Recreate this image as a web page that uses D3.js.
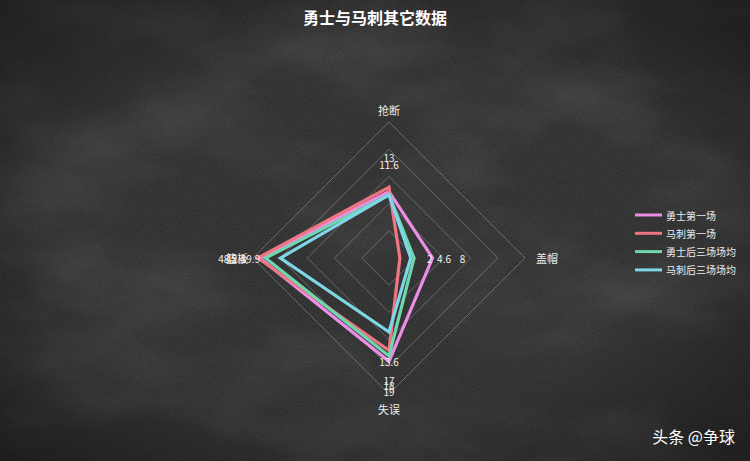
<!DOCTYPE html>
<html>
<head>
<meta charset="utf-8">
<script src="https://cdn.jsdelivr.net/npm/d3@7"></script>
<style>
  body { margin: 0; background: #2d2d2d; }
  svg { display: block; font-family: "Noto Sans CJK SC", "Noto Sans", sans-serif; }
</style>
</head>
<body>
<div id="wrapper"></div>
<script>
// # Data
const indicators = ["抢断", "盖帽", "失误", "篮板"];
const indicatorMax = [25, 25, 25, 50];
const seriesNames = ["勇士第一场", "马刺第一场", "勇士后三场场均", "马刺后三场场均"];
const seriesColors = ["#ec8ee6", "#f07582", "#6fd6ad", "#7ed6e6"];
const warriorsGame1 = [12.2, 8, 19, 47.5];
const spursGame1 = [13, 2, 17, 48.2];
const warriorsNext3 = [11.6, 4.6, 18, 45.4];
const spursNext3 = [11.6, 4, 13.6, 39.9];
const seriesValues = [warriorsGame1, spursGame1, warriorsNext3, spursNext3];
// labels that sit exactly under another one in the picture
const hiddenLabels = [[0, 0], [2, 0], [3, 1], [0, 3]];

async function drawRadar() {
  // # Dimensions
  const dimensions = {
    width: 750,
    height: 461,
    cx: 389,
    cy: 258,
    radius: 136,
    labelOffset: 30,
  };

  const svg = d3.select("#wrapper")
    .append("svg")
    .attr("width", dimensions.width)
    .attr("height", dimensions.height);

  // # Chalkboard background
  const defs = svg.append("defs");
  const chalk = defs.append("filter").attr("id", "chalk")
    .attr("x", 0).attr("y", 0).attr("width", "100%").attr("height", "100%");
  chalk.append("feTurbulence")
    .attr("type", "fractalNoise")
    .attr("baseFrequency", "0.006 0.012")
    .attr("numOctaves", 4)
    .attr("seed", 7);
  chalk.append("feColorMatrix")
    .attr("values", "0 0 0 0 1  0 0 0 0 1  0 0 0 0 1  0.9 0 0 0 -0.38");

  const grain = defs.append("filter").attr("id", "grain")
    .attr("x", 0).attr("y", 0).attr("width", "100%").attr("height", "100%");
  grain.append("feTurbulence")
    .attr("type", "fractalNoise")
    .attr("baseFrequency", 0.9)
    .attr("numOctaves", 2)
    .attr("seed", 3);
  grain.append("feColorMatrix")
    .attr("values", "0 0 0 0 1  0 0 0 0 1  0 0 0 0 1  0 0 0 0.12 -0.02");

  const vignette = defs.append("radialGradient").attr("id", "vignette")
    .attr("cx", "50%").attr("cy", "50%").attr("r", "70%");
  vignette.append("stop").attr("offset", "55%").attr("stop-color", "#000").attr("stop-opacity", 0);
  vignette.append("stop").attr("offset", "100%").attr("stop-color", "#000").attr("stop-opacity", 0.45);

  svg.append("rect").attr("width", dimensions.width).attr("height", dimensions.height).attr("fill", "#2c2c2c");
  svg.append("rect").attr("width", dimensions.width).attr("height", dimensions.height)
    .attr("filter", "url(#chalk)").attr("opacity", 0.22);
  svg.append("rect").attr("width", dimensions.width).attr("height", dimensions.height)
    .attr("filter", "url(#grain)");
  svg.append("rect").attr("width", dimensions.width).attr("height", dimensions.height)
    .attr("fill", "url(#vignette)");

  // # Title
  svg.append("text")
    .attr("x", 375)
    .attr("y", 24)
    .attr("text-anchor", "middle")
    .attr("fill", "#ffffff")
    .style("font-size", "16px")
    .style("font-weight", "bold")
    .text("勇士与马刺其它数据");

  const bounds = svg.append("g")
    .attr("transform", `translate(${dimensions.cx}, ${dimensions.cy})`);

  // # Scales
  const angleStep = 2 * Math.PI / indicators.length;
  const scales = indicatorMax.map(max => d3.scaleLinear()
    .domain([0, max])
    .range([0, dimensions.radius]));
  const ringScale = d3.scaleLinear().domain([0, 5]).range([0, dimensions.radius]);

  const radarLine = d3.lineRadial()
    .angle((d, i) => i * angleStep)
    .radius((d, i) => scales[i](d))
    .curve(d3.curveLinearClosed);

  // # Split rings
  const ringLine = d3.lineRadial()
    .angle((d, i) => i * angleStep)
    .radius(d => ringScale(d))
    .curve(d3.curveLinearClosed);

  bounds.append("g")
    .selectAll("path")
    .data(d3.range(1, 6))
    .join("path")
    .attr("d", level => ringLine(indicators.map(() => level)))
    .attr("fill", "none")
    .attr("stroke", "rgba(210,210,210,0.32)")
    .attr("stroke-width", 1);

  // # Series polygons
  bounds.append("g")
    .selectAll("path")
    .data(seriesValues)
    .join("path")
    .attr("d", radarLine)
    .attr("fill", "none")
    .attr("stroke", (d, i) => seriesColors[i])
    .attr("stroke-width", 3.2)
    .attr("stroke-linejoin", "miter");

  // # Value labels (pushed outward from each point)
  const point = (axis, r) => {
    const a = axis * angleStep;
    return [Math.sin(a) * r, -Math.cos(a) * r];
  };
  const labelData = [];
  seriesValues.forEach((values, s) => {
    values.forEach((v, axis) => {
      if (hiddenLabels.some(([hs, ha]) => hs === s && ha === axis)) return;
      labelData.push({ s, axis, v, pos: point(axis, scales[axis](v) + dimensions.labelOffset) });
    });
  });

  bounds.append("g")
    .selectAll("text")
    .data(labelData)
    .join("text")
    .attr("x", d => d.pos[0])
    .attr("y", d => d.pos[1])
    .attr("text-anchor", "middle")
    .attr("dominant-baseline", "central")
    .attr("fill", "#f0f0f0")
    .style("font-size", "10px")
    .text(d => d.v);

  // # Indicator names
  bounds.append("g")
    .selectAll("text")
    .data(indicators)
    .join("text")
    .attr("x", (d, i) => point(i, dimensions.radius + [12, 22, 15, 16][i])[0])
    .attr("y", (d, i) => point(i, dimensions.radius + [12, 22, 15, 16][i])[1])
    .attr("text-anchor", "middle")
    .attr("dominant-baseline", "central")
    .attr("fill", "#ececec")
    .style("font-size", "11px")
    .text(d => d);

  // # Legend
  const legend = svg.append("g")
    .attr("transform", "translate(635, 215)");
  const legendItems = legend.selectAll("g")
    .data(seriesNames)
    .join("g")
    .attr("transform", (d, i) => `translate(0, ${i * 18.3})`);
  legendItems.append("line")
    .attr("x1", 0).attr("x2", 27)
    .attr("stroke", (d, i) => seriesColors[i])
    .attr("stroke-width", 3);
  legendItems.append("text")
    .attr("x", 31)
    .attr("dominant-baseline", "central")
    .attr("fill", "#ececec")
    .style("font-size", "10px")
    .text(d => d);

  // # Watermark
  svg.append("text")
    .attr("x", 735)
    .attr("y", 443)
    .attr("text-anchor", "end")
    .attr("fill", "#ffffff")
    .style("font-size", "16px")
    .text("头条 @争球");
}
drawRadar();
</script>
</body>
</html>
